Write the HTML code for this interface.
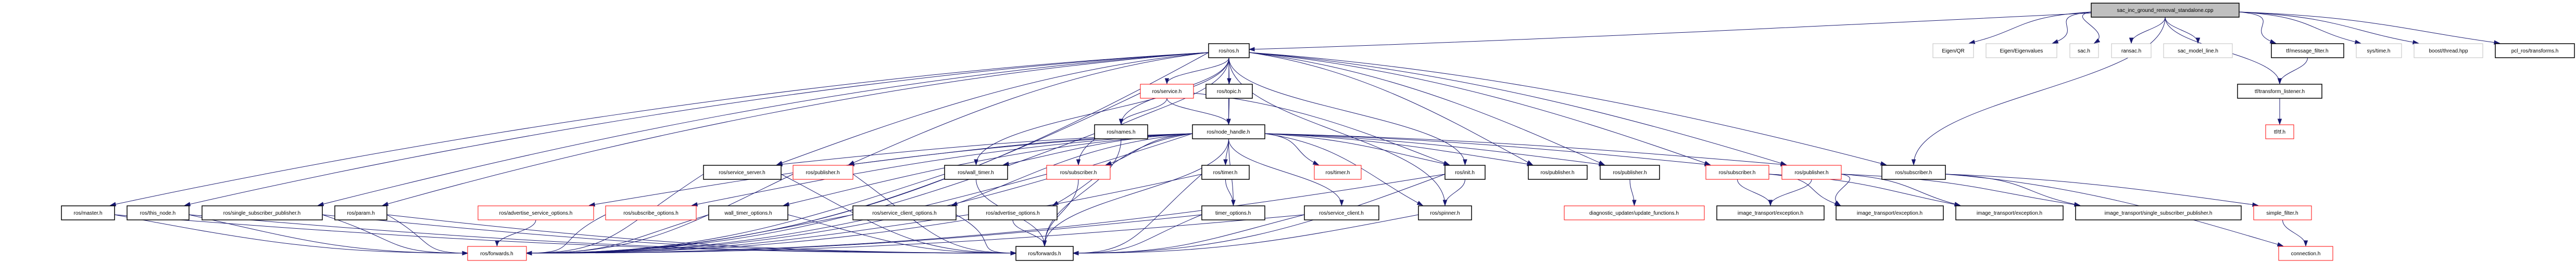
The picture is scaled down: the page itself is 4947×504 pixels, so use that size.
<!DOCTYPE html>
<html><head><meta charset="utf-8">
<style>
html,body{margin:0;padding:0;background:#fff;width:4947px;height:504px;overflow:hidden}
svg{display:block}
text{font-family:"Liberation Sans",sans-serif;font-size:10px;fill:#000}
</style></head><body>
<svg id="s" width="4947" height="504" viewBox="0 0 4947 504" xmlns="http://www.w3.org/2000/svg">
<g id="edges" fill="none" stroke="#191970" stroke-width="1"></g>
<g id="nodes" text-anchor="middle">
<rect x="4016" y="6" width="284" height="27" fill="#bfbfbf" stroke="#000" stroke-width="1.5"/><text x="4158" y="23">sac_inc_ground_removal_standalone.cpp</text>
<rect x="2321" y="84" width="78" height="27" fill="#fff" stroke="#000" stroke-width="1.5"/><text x="2360" y="101">ros/ros.h</text>
<rect x="3712" y="84" width="78" height="27" fill="#fff" stroke="#bfbfbf"/><text x="3751" y="101">Eigen/QR</text>
<rect x="3814" y="84" width="136" height="27" fill="#fff" stroke="#bfbfbf"/><text x="3882" y="101">Eigen/Eigenvalues</text>
<rect x="3975" y="84" width="55" height="27" fill="#fff" stroke="#bfbfbf"/><text x="4002" y="101">sac.h</text>
<rect x="4055" y="84" width="76" height="27" fill="#fff" stroke="#bfbfbf"/><text x="4093" y="101">ransac.h</text>
<rect x="4155" y="84" width="132" height="27" fill="#fff" stroke="#bfbfbf"/><text x="4221" y="101">sac_model_line.h</text>
<rect x="4362" y="84" width="139" height="27" fill="#fff" stroke="#000" stroke-width="1.5"/><text x="4431" y="101">tf/message_filter.h</text>
<rect x="4525" y="84" width="87" height="27" fill="#fff" stroke="#bfbfbf"/><text x="4568" y="101">sys/time.h</text>
<rect x="4636" y="84" width="132" height="27" fill="#fff" stroke="#bfbfbf"/><text x="4702" y="101">boost/thread.hpp</text>
<rect x="4792" y="84" width="152" height="27" fill="#fff" stroke="#000" stroke-width="1.5"/><text x="4868" y="101">pcl_ros/transforms.h</text>

<rect x="2190" y="162" width="102" height="27" fill="#fff" stroke="#f00"/><text x="2241" y="179">ros/service.h</text>
<rect x="2316" y="162" width="89" height="27" fill="#fff" stroke="#000" stroke-width="1.5"/><text x="2360" y="179">ros/topic.h</text>
<rect x="4297" y="162" width="162" height="27" fill="#fff" stroke="#000" stroke-width="1.5"/><text x="4378" y="179">tf/transform_listener.h</text>

<rect x="2102" y="240" width="102" height="27" fill="#fff" stroke="#000" stroke-width="1.5"/><text x="2153" y="257">ros/names.h</text>
<rect x="2290" y="240" width="139" height="27" fill="#fff" stroke="#000" stroke-width="1.5"/><text x="2359" y="257">ros/node_handle.h</text>
<rect x="4351" y="240" width="54" height="27" fill="#fff" stroke="#f00"/><text x="4378" y="257">tf/tf.h</text>

<rect x="1351" y="318" width="149" height="27" fill="#fff" stroke="#000" stroke-width="1.5"/><text x="1425" y="335">ros/service_server.h</text>
<rect x="1523" y="318" width="115" height="27" fill="#fff" stroke="#f00"/><text x="1580" y="335">ros/publisher.h</text>
<rect x="1814" y="318" width="121" height="27" fill="#fff" stroke="#000" stroke-width="1.5"/><text x="1874" y="335">ros/wall_timer.h</text>
<rect x="2010" y="318" width="122" height="27" fill="#fff" stroke="#f00"/><text x="2071" y="335">ros/subscriber.h</text>
<rect x="2308" y="318" width="91" height="27" fill="#fff" stroke="#000" stroke-width="1.5"/><text x="2353" y="335">ros/timer.h</text>
<rect x="2524" y="318" width="90" height="27" fill="#fff" stroke="#f00"/><text x="2569" y="335">ros/timer.h</text>
<rect x="2775" y="318" width="77" height="27" fill="#fff" stroke="#000" stroke-width="1.5"/><text x="2813" y="335">ros/init.h</text>
<rect x="2935" y="318" width="113" height="27" fill="#fff" stroke="#000" stroke-width="1.5"/><text x="2991" y="335">ros/publisher.h</text>
<rect x="3073" y="318" width="114" height="27" fill="#fff" stroke="#000" stroke-width="1.5"/><text x="3130" y="335">ros/publisher.h</text>
<rect x="3276" y="318" width="121" height="27" fill="#fff" stroke="#f00"/><text x="3336" y="335">ros/subscriber.h</text>
<rect x="3422" y="318" width="114" height="27" fill="#fff" stroke="#f00"/><text x="3479" y="335">ros/publisher.h</text>
<rect x="3614" y="318" width="122" height="27" fill="#fff" stroke="#000" stroke-width="1.5"/><text x="3675" y="335">ros/subscriber.h</text>

<rect x="118" y="396" width="102" height="27" fill="#fff" stroke="#000" stroke-width="1.5"/><text x="169" y="413">ros/master.h</text>
<rect x="244" y="396" width="119" height="27" fill="#fff" stroke="#000" stroke-width="1.5"/><text x="303" y="413">ros/this_node.h</text>
<rect x="388" y="396" width="231" height="27" fill="#fff" stroke="#000" stroke-width="1.5"/><text x="503" y="413">ros/single_subscriber_publisher.h</text>
<rect x="643" y="396" width="100" height="27" fill="#fff" stroke="#000" stroke-width="1.5"/><text x="693" y="413">ros/param.h</text>
<rect x="918" y="396" width="222" height="27" fill="#fff" stroke="#f00"/><text x="1029" y="413">ros/advertise_service_options.h</text>
<rect x="1163" y="396" width="174" height="27" fill="#fff" stroke="#f00"/><text x="1250" y="413">ros/subscribe_options.h</text>
<rect x="1361" y="396" width="152" height="27" fill="#fff" stroke="#000" stroke-width="1.5"/><text x="1437" y="413">wall_timer_options.h</text>
<rect x="1638" y="396" width="198" height="27" fill="#fff" stroke="#000" stroke-width="1.5"/><text x="1737" y="413">ros/service_client_options.h</text>
<rect x="1860" y="396" width="170" height="27" fill="#fff" stroke="#000" stroke-width="1.5"/><text x="1945" y="413">ros/advertise_options.h</text>
<rect x="2308" y="396" width="121" height="27" fill="#fff" stroke="#000" stroke-width="1.5"/><text x="2368" y="413">timer_options.h</text>
<rect x="2505" y="396" width="143" height="27" fill="#fff" stroke="#000" stroke-width="1.5"/><text x="2576" y="413">ros/service_client.h</text>
<rect x="2724" y="396" width="102" height="27" fill="#fff" stroke="#000" stroke-width="1.5"/><text x="2775" y="413">ros/spinner.h</text>
<rect x="3004" y="396" width="269" height="27" fill="#fff" stroke="#f00"/><text x="3138" y="413">diagnostic_updater/update_functions.h</text>
<rect x="3297" y="396" width="206" height="27" fill="#fff" stroke="#000" stroke-width="1.5"/><text x="3400" y="413">image_transport/exception.h</text>
<rect x="3526" y="396" width="206" height="27" fill="#fff" stroke="#000" stroke-width="1.5"/><text x="3629" y="413">image_transport/exception.h</text>
<rect x="3756" y="396" width="206" height="27" fill="#fff" stroke="#000" stroke-width="1.5"/><text x="3859" y="413">image_transport/exception.h</text>
<rect x="3986" y="396" width="318" height="27" fill="#fff" stroke="#000" stroke-width="1.5"/><text x="4145" y="413">image_transport/single_subscriber_publisher.h</text>
<rect x="4328" y="396" width="111" height="27" fill="#fff" stroke="#f00"/><text x="4383" y="413">simple_filter.h</text>

<rect x="898" y="474" width="113" height="27" fill="#fff" stroke="#f00"/><text x="954" y="491">ros/forwards.h</text>
<rect x="1951" y="474" width="110" height="27" fill="#fff" stroke="#000" stroke-width="1.5"/><text x="2006" y="491">ros/forwards.h</text>
<rect x="4376" y="474" width="104" height="27" fill="#fff" stroke="#f00"/><text x="4428" y="491">connection.h</text>
</g>
</svg>
<script>
var N={
cpp:[4016,4300,1],ros:[2321,2399,2],qr:[3712,3790,2],eig:[3814,3950,2],sac:[3975,4030,2],ran:[4055,4131,2],sml:[4155,4287,2],mf:[4362,4501,2],st:[4525,4612,2],bt:[4636,4768,2],pcl:[4792,4944,2],
srv:[2190,2292,3],top:[2316,2405,3],tl:[4297,4459,3],
nam:[2102,2204,4],nh:[2290,2429,4],tf:[4351,4405,4],
ss:[1351,1500,5],pubr:[1523,1638,5],wt:[1814,1935,5],subr:[2010,2132,5],tim:[2308,2399,5],timr:[2524,2614,5],ini:[2775,2852,5],pub1:[2935,3048,5],pub2:[3073,3187,5],subr2:[3276,3397,5],pubr2:[3422,3536,5],subb:[3614,3736,5],
mas:[118,220,6],tn:[244,363,6],ssp:[388,619,6],par:[643,743,6],aso:[918,1140,6],so:[1163,1337,6],wto:[1361,1513,6],sco:[1638,1836,6],ao:[1860,2030,6],to:[2308,2429,6],sc:[2505,2648,6],sp:[2724,2826,6],du:[3004,3273,6],ie1:[3297,3503,6],ie2:[3526,3732,6],ie3:[3756,3962,6],issp:[3986,4304,6],sf:[4328,4439,6],
fw:[898,1011,7],fw2:[1951,2061,7],con:[4376,4480,7]};
var E=[
"cpp qr","cpp eig","cpp sac","cpp ran","cpp sml","cpp mf","cpp st","cpp bt","cpp pcl","cpp tl","cpp subb","mf tl","tl tf",
"ros srv","ros top","ros nam","ros nh","ros ini","ros pub1","ros pub2","ros subr2","ros pubr2","ros subb","ros mas","ros tn","ros ssp","ros par","ros ss","ros pubr","ros wt","ros subr","ros sp","ros fw",
"srv nam","srv nh","srv fw","srv ini","top nh",
"nh ss","nh pubr","nh wt","nh subr","nh tim","nh timr","nh ini","nh pub1","nh pub2","nh subr2","nh pubr2","nh aso","nh so","nh wto","nh sco","nh ao","nh to","nh sc","nh sp","nh fw","nh fw2",
"nam fw","nam fw2","ss fw","ss fw2","pubr fw","pubr fw2","wt fw","wt fw2","subr fw","subr fw2","tim to","tim fw","tim fw2","ini sp","ini fw","ini fw2","pub2 du",
"subr2 ie1","subr2 ie2","subr2 ie3","pubr2 ie1","pubr2 ie2","pubr2 ie3","pubr2 issp","subb sf","subb con","subb issp","sf con",
"mas fw","mas fw2","tn fw","tn fw2","ssp fw","ssp fw2","par fw","par fw2","aso fw","so fw","wto fw","wto fw2","sco fw","sco fw2","ao fw","ao fw2","to fw","to fw2","sc fw","sc fw2","sp fw2"];
function Y(r){return 19+(r-1)*78;}
var g=document.getElementById('edges'),out='',ah='';
function add(ax,ay,c1x,c1y,c2x,c2y,bx,by){
out+='<path d="M'+ax+','+ay+' C'+c1x+','+c1y+' '+c2x+','+c2y+' '+bx+','+by+'"/>';
var vx=bx-c2x,vy=by-c2y,l=Math.sqrt(vx*vx+vy*vy)||1;vx/=l;vy/=l;
var px=-vy,py=vx,L=10,W=3.5;
ah+='<polygon points="'+bx+','+by+' '+(bx-vx*L+px*W)+','+(by-vy*L+py*W)+' '+(bx-vx*L-px*W)+','+(by-vy*L-py*W)+'"/>';
}
/* cpp -> ros.h: nearly straight */
add(4016,25,3500,50,2900,80,2399,95);
E.forEach(function(e){var p=e.split(' '),a=N[p[0]],b=N[p[1]];
var ax=(a[0]+a[1])/2,ay=Y(a[2])+14,bx=(b[0]+b[1])/2,by=Y(b[2])-14;
var dy=by-ay,dx=bx-ax;
var far=Math.abs(dx)>2.5*dy;
var side=far&&(p[1]=='fw'||p[1]=='fw2');
if(far){ax=dx<0?a[0]:a[1];ay=Y(a[2])+4;dy=by-ay;}
if(side){bx=dx<0?b[1]:b[0];by=Y(b[2]);}
else if(far){bx=dx<0?b[1]-8:b[0]+8;}
var c1x,c1y,c2x,c2y;
if(side){c1x=ax+dx*0.35;c1y=ay+(by-ay)*0.7;c2x=bx-dx*0.35;c2y=by;}
else if(far){c1x=ax+dx*0.35;c1y=ay+(by-ay)*0.15;c2x=bx-dx*0.25;c2y=by-(by-ay)*0.4;}
else{c1x=ax;c1y=ay+dy*0.45;c2x=bx;c2y=by-dy*0.45;}
add(ax,ay,c1x,c1y,c2x,c2y,bx,by);
});
g.innerHTML=out+'<g fill="#191970" stroke="#191970">'+ah+'</g>';
</script>
</body></html>
